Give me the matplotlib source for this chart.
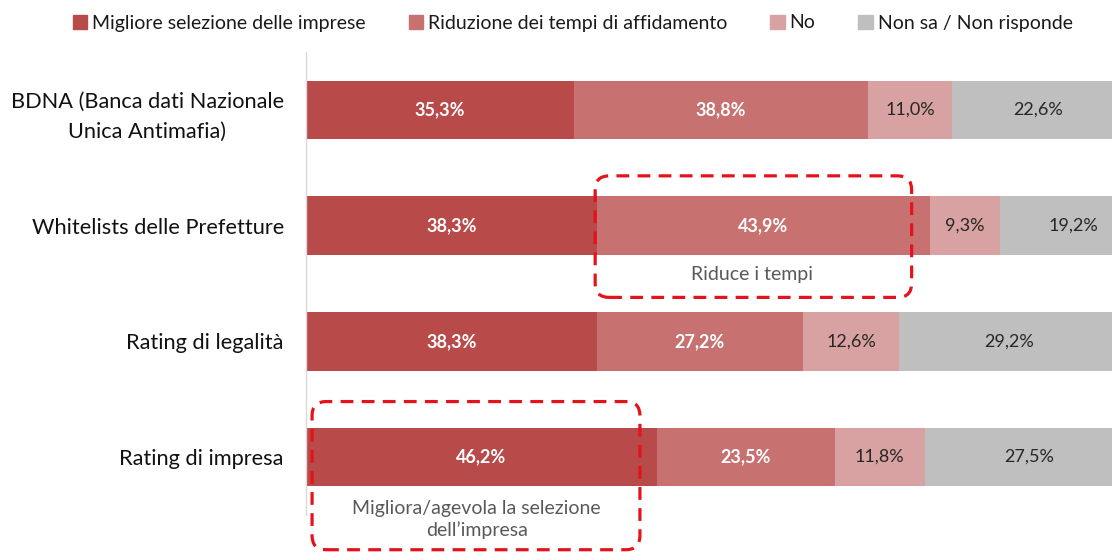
import numpy as np
import matplotlib.pyplot as plt
from matplotlib.patches import Patch, FancyBboxPatch
from matplotlib.transforms import IdentityTransform

plt.rcParams['font.family'] = ['Lato', 'DejaVu Sans']

categories = ['BDNA (Banca dati Nazionale\nUnica Antimafia)',
              'Whitelists delle Prefetture',
              'Rating di legalità',
              'Rating di impresa']
series = ['Migliore selezione delle imprese',
          'Riduzione dei tempi di affidamento',
          'No',
          'Non sa / Non risponde']
migliore = [35.3, 38.3, 38.3, 46.2]
riduzione = [38.8, 43.9, 27.2, 23.5]
no = [11.0, 9.3, 12.6, 11.8]
non_sa = [22.6, 19.2, 29.2, 27.5]

colors = ['#B84A4A', '#C77171', '#D9A2A2', '#BFBFBF']
label_colors = ['white', 'white', '#262626', '#262626']
label_weight = ['bold', 'bold', 'normal', 'normal']

W, H = 1112, 559
fig = plt.figure(figsize=(W / 100, H / 100), dpi=100)
ax = fig.add_axes([306 / W, 44 / H, 1 - 306 / W, 463 / H])

y = np.arange(len(categories))
left = np.zeros(len(categories))
for i, vals in enumerate([migliore, riduzione, no, non_sa]):
    vals = np.array(vals)
    ax.barh(y, vals, left=left, height=0.505, color=colors[i], label=series[i])
    for yy, l, v in zip(y, left, vals):
        ax.text(l + v / 2, yy, f'{v:.1f}%'.replace('.', ','), ha='center', va='center',
                color=label_colors[i], fontsize=13, fontweight=label_weight[i])
    left += vals

ax.set_xlim(0, 106.2)
ax.set_ylim(3.5, -0.5)
ax.set_yticks(y)
ax.set_yticklabels(categories, fontsize=15.7, color='#111111', multialignment='center',
                   linespacing=1.62)
ax.tick_params(axis='y', length=0, pad=16)
ax.set_xticks([])
for s in ['top', 'right', 'bottom']:
    ax.spines[s].set_visible(False)
ax.spines['left'].set_color('#D9D9D9')
ax.spines['left'].set_linewidth(1)

handles = [Patch(color=c) for c in colors]
fig.legend(handles, series, loc='center', bbox_to_anchor=(0.515, 1 - 23 / H), ncol=4,
           frameon=False, fontsize=14, handlelength=0.75, handleheight=0.75,
           handletextpad=0.25, columnspacing=2.2, labelcolor='#1a1a1a')

# dashed callout boxes, drawn in pixel space so the corners stay round
def callout(x0, x1, y0, y1):
    (px0, py0) = ax.transData.transform((x0, y0))
    (px1, py1) = ax.transData.transform((x1, y1))
    box = FancyBboxPatch((min(px0, px1), min(py0, py1)), abs(px1 - px0), abs(py1 - py0),
                         boxstyle='round,pad=0,rounding_size=14', transform=IdentityTransform(),
                         fill=False, edgecolor='#E3121B', linewidth=2.3,
                         linestyle=(0, (4, 2.6)), clip_on=False, zorder=5)
    fig.add_artist(box)

callout(38.3 - 0.2, migliore[1] + riduzione[1] - 2.4, 1 - 0.43, 1 + 0.62)
ax.text(migliore[1] + riduzione[1] / 2 - 1.5, 1 + 0.425, 'Riduce i tempi', ha='center', va='center',
        fontsize=14, color='#595959')

callout(0.8, migliore[3] - 2.2, 3 - 0.48, 3 + 0.8)
ax.text(migliore[3] / 2 - 0.6, 3 + 0.54, 'Migliora/agevola la selezione\ndell\u2019impresa',
        ha='center', va='center', fontsize=14, color='#595959', linespacing=1.3,
        clip_on=False)

fig.savefig('out.png', dpi=100)
